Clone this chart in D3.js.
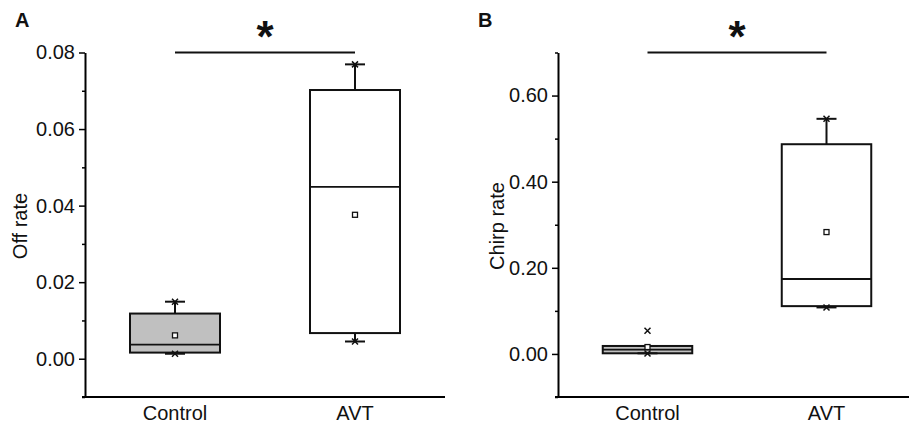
<!DOCTYPE html>
<html>
<head>
<meta charset="utf-8">
<script src="https://cdn.jsdelivr.net/npm/d3@7"></script>
<style>
  body { margin: 0; background: #fff; }
  svg { display: block; font-family: "Liberation Sans", Arial, sans-serif; }
</style>
</head>
<body>
<div id="viz_canvas"></div>
<script>
"use strict";

// groups on the x axis
var groups = ["Control", "AVT"];

// panel A: off rate
var offQ1 = [0.0016, 0.0067];
var offMedian = [0.0037, 0.0449];
var offQ3 = [0.0118, 0.0702];
var offMean = [0.0061, 0.0376];
var offWhiskLo = [0.0013, 0.0045];
var offWhiskHi = [0.0149, 0.0769];
var offMin = [0.0013, 0.0045];
var offMax = [0.0149, 0.0769];
var offTicks = [0.00, 0.02, 0.04, 0.06, 0.08];
var offMinorTicks = [-0.01, 0.01, 0.03, 0.05, 0.07];

// panel B: chirp rate
var chirpQ1 = [0.0015, 0.111];
var chirpMedian = [0.010, 0.174];
var chirpQ3 = [0.0185, 0.487];
var chirpMean = [0.016, 0.283];
var chirpWhiskLo = [0.0015, 0.108];
var chirpWhiskHi = [0.0185, 0.546];
var chirpMin = [0.001, 0.108];
var chirpMax = [0.054, 0.546];
var chirpTicks = [0.00, 0.20, 0.40, 0.60];
var chirpMinorTicks = [-0.1, 0.1, 0.3, 0.5, 0.7];

var fills = ["#c0c0c0", "#ffffff"];

var width = 909, height = 425;
var svg = d3.select("#viz_canvas").append("svg")
    .attr("width", width).attr("height", height);

function drawPanel(opt) {
    var g = svg.append("g");
    var x = d3.scaleBand().domain(groups)
        .range([opt.left, opt.right]).paddingInner(0.5).paddingOuter(0.25);
    var y = d3.scaleLinear().domain(opt.domain).range([397, 52.5]);

    // minor ticks
    g.append("g")
        .attr("transform", "translate(" + opt.left + ",0)")
        .call(d3.axisLeft(y).tickValues(opt.minor).tickSize(3).tickFormat(""))
        .call(function (a) { a.select(".domain").remove(); })
        .selectAll("line").attr("stroke-width", 1.5);

    var yAxis = g.append("g")
        .attr("transform", "translate(" + opt.left + ",0)")
        .call(d3.axisLeft(y).tickValues(opt.ticks).tickSize(6).tickSizeOuter(0)
            .tickFormat(d3.format(".2f")));
    yAxis.select(".domain").attr("stroke-width", 2);
    yAxis.selectAll("line").attr("stroke-width", 1.5);
    yAxis.selectAll("text").attr("font-size", "20px").attr("fill", "#111").attr("dx", "-1");

    var xAxis = g.append("g")
        .attr("transform", "translate(0,397)")
        .call(d3.axisBottom(x).tickSize(0).tickPadding(9));
    xAxis.select(".domain").attr("d", "M" + (opt.left - 3) + ",0H" + opt.axisEnd).attr("stroke-width", 2);
    xAxis.selectAll("text").attr("font-size", "20px").attr("fill", "#111");

    g.append("text")
        .attr("transform", "translate(" + opt.labelX + ",226) rotate(-90)")
        .attr("text-anchor", "middle")
        .attr("dy", "0.35em")
        .attr("font-size", "20px")
        .attr("fill", "#111")
        .text(opt.label);

    var boxes = g.append("g").selectAll("g")
        .data(groups).enter().append("g");
    var bw = x.bandwidth();
    var cx = function (d) { return x(d) + bw / 2; };

    // whiskers
    boxes.append("line")
        .attr("x1", cx).attr("x2", cx)
        .attr("y1", function (d, i) { return y(opt.q3[i]); })
        .attr("y2", function (d, i) { return y(opt.whiskHi[i]); })
        .attr("stroke", "#111").attr("stroke-width", 2);
    boxes.append("line")
        .attr("x1", cx).attr("x2", cx)
        .attr("y1", function (d, i) { return y(opt.q1[i]); })
        .attr("y2", function (d, i) { return y(opt.whiskLo[i]); })
        .attr("stroke", "#111").attr("stroke-width", 2);

    boxes.append("rect")
        .attr("x", function (d) { return x(d); })
        .attr("width", bw)
        .attr("y", function (d, i) { return y(opt.q3[i]); })
        .attr("height", function (d, i) { return y(opt.q1[i]) - y(opt.q3[i]); })
        .attr("fill", function (d, i) { return fills[i]; })
        .attr("stroke", "#111").attr("stroke-width", 2);

    boxes.append("line")
        .attr("x1", function (d) { return x(d); })
        .attr("x2", function (d) { return x(d) + bw; })
        .attr("y1", function (d, i) { return y(opt.median[i]); })
        .attr("y2", function (d, i) { return y(opt.median[i]); })
        .attr("stroke", "#111").attr("stroke-width", 1.8);

    // caps
    [opt.whiskHi, opt.whiskLo].forEach(function (w) {
        boxes.append("line")
            .attr("x1", function (d) { return cx(d) - 10; })
            .attr("x2", function (d) { return cx(d) + 10; })
            .attr("y1", function (d, i) { return y(w[i]); })
            .attr("y2", function (d, i) { return y(w[i]); })
            .attr("stroke", "#111").attr("stroke-width", 2);
    });

    // min / max crosses
    [opt.max, opt.min].forEach(function (m) {
        boxes.append("path")
            .attr("transform", function (d, i) { return "translate(" + cx(d) + "," + y(m[i]) + ")"; })
            .attr("d", "M-3,-3L3,3M-3,3L3,-3")
            .attr("stroke", "#111").attr("stroke-width", 1.5);
    });

    // mean
    boxes.append("rect")
        .attr("x", function (d) { return cx(d) - 2.5; })
        .attr("y", function (d, i) { return y(opt.mean[i]) - 2.5; })
        .attr("width", 5).attr("height", 5)
        .attr("fill", "#fff").attr("stroke", "#111").attr("stroke-width", 1.3);

    // significance bar
    g.append("line")
        .attr("x1", cx(groups[0])).attr("x2", cx(groups[1]))
        .attr("y1", 52.5).attr("y2", 52.5)
        .attr("stroke", "#111").attr("stroke-width", 2);
    g.append("text")
        .attr("x", (cx(groups[0]) + cx(groups[1])) / 2)
        .attr("y", 52)
        .attr("text-anchor", "middle")
        .attr("font-size", "44px").attr("font-weight", "bold")
        .attr("fill", "#111")
        .text("*");

    g.append("text")
        .attr("x", opt.panelX).attr("y", 27)
        .attr("font-size", "20px").attr("font-weight", "bold")
        .attr("fill", "#111")
        .text(opt.panel);
}

drawPanel({
    panel: "A", panelX: 15, label: "Off rate", labelX: 20,
    left: 85, right: 445, axisEnd: 445,
    domain: [-0.01, 0.08], ticks: offTicks, minor: offMinorTicks,
    q1: offQ1, median: offMedian, q3: offQ3, mean: offMean,
    whiskLo: offWhiskLo, whiskHi: offWhiskHi, min: offMin, max: offMax
});

drawPanel({
    panel: "B", panelX: 478, label: "Chirp rate", labelX: 497,
    left: 558, right: 916, axisEnd: 909,
    domain: [-0.1, 0.7], ticks: chirpTicks, minor: chirpMinorTicks,
    q1: chirpQ1, median: chirpMedian, q3: chirpQ3, mean: chirpMean,
    whiskLo: chirpWhiskLo, whiskHi: chirpWhiskHi, min: chirpMin, max: chirpMax
});
</script>
</body>
</html>
